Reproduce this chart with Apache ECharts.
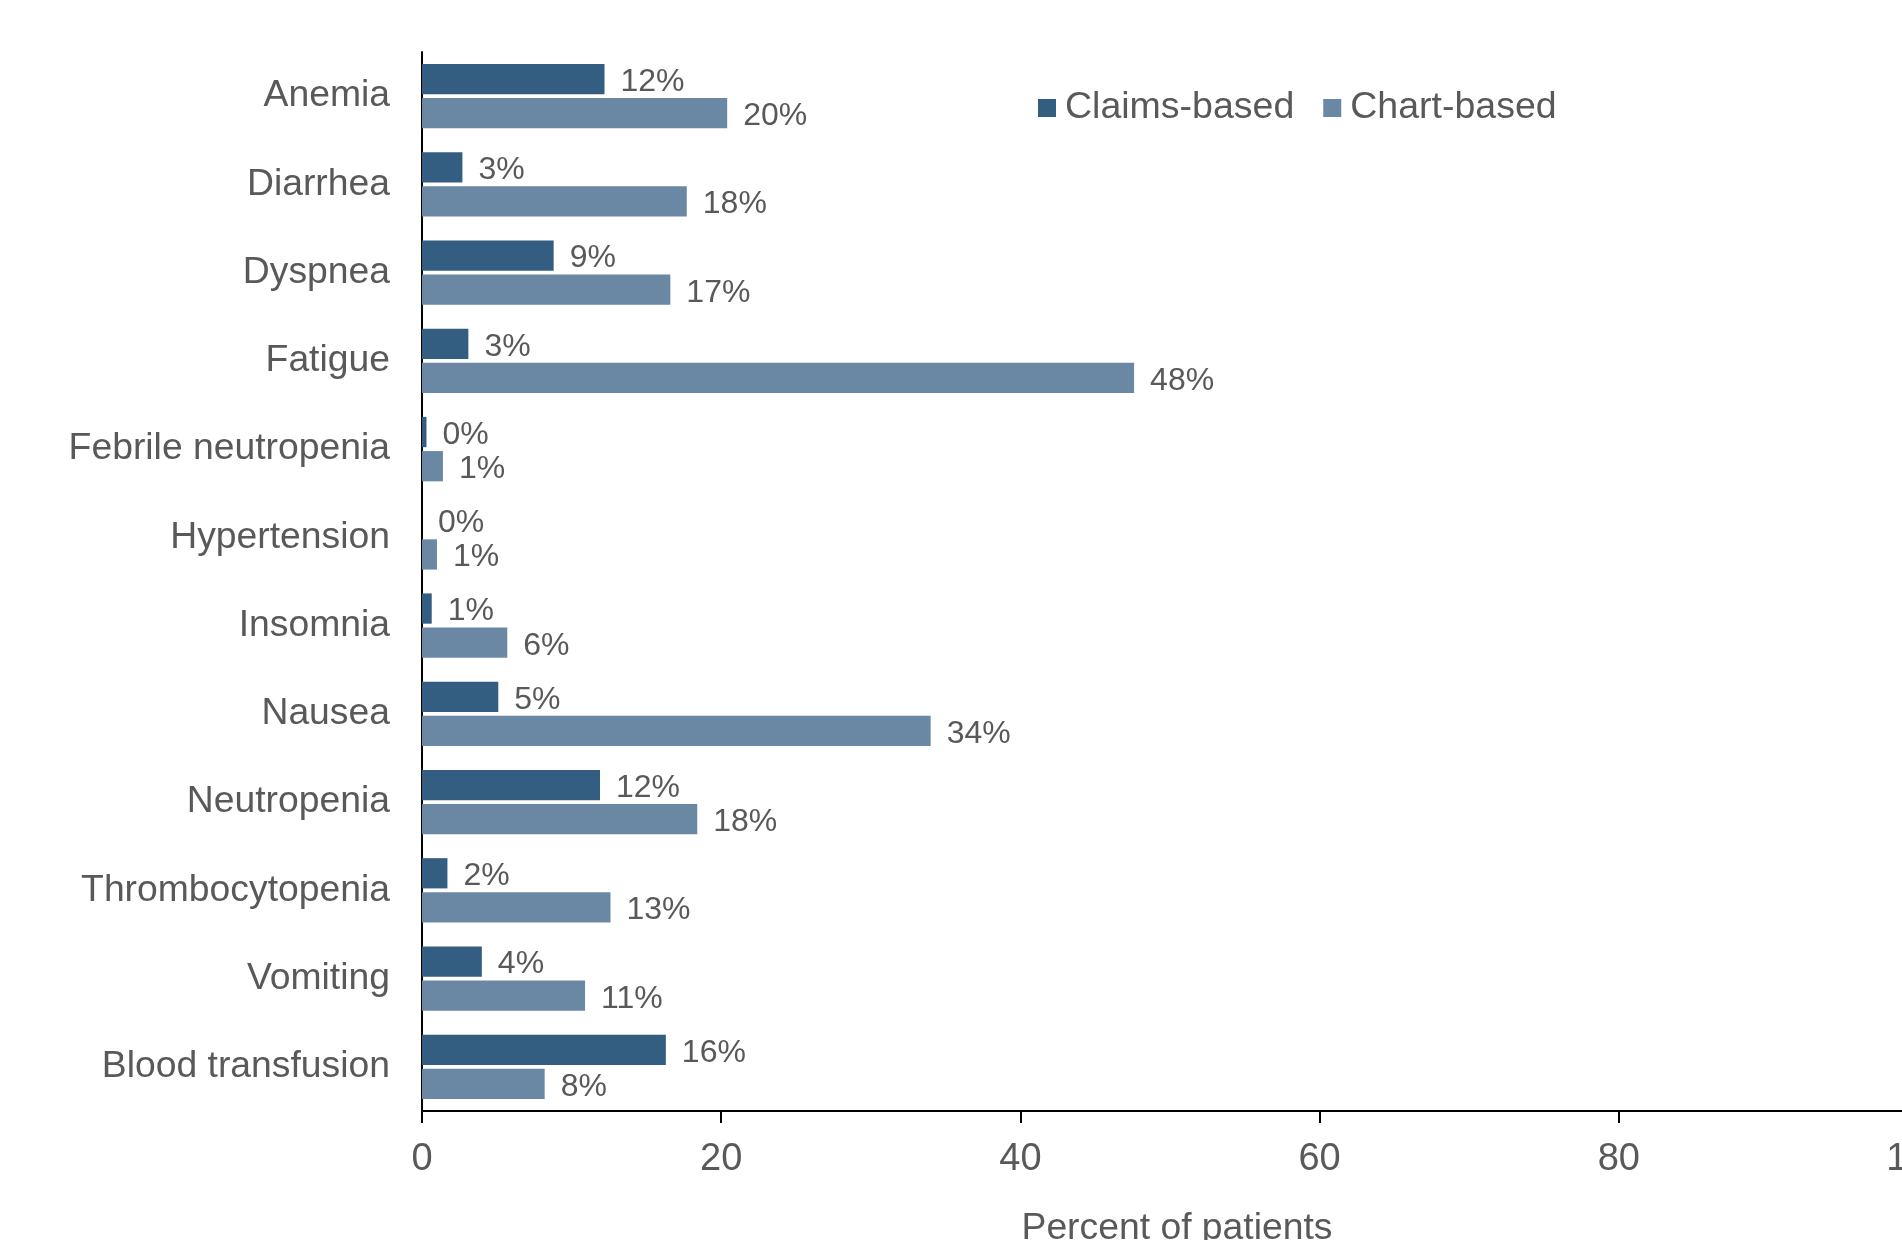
<!DOCTYPE html>
<html>
<head>
<meta charset="utf-8">
<script src="https://cdn.jsdelivr.net/npm/echarts@6/dist/echarts.min.js"></script>
<style>
  html, body { margin: 0; padding: 0; background: #fff; overflow: hidden; }
  #chart { width: 1902px; height: 1240px; }
</style>
</head>
<body>
<div id="chart"></div>
<script>
const categories = ['Anemia', 'Diarrhea', 'Dyspnea', 'Fatigue', 'Febrile neutropenia', 'Hypertension',
  'Insomnia', 'Nausea', 'Neutropenia', 'Thrombocytopenia', 'Vomiting', 'Blood transfusion']
const claimsBased = [12.2, 2.7, 8.8, 3.1, 0.3, 0, 0.65, 5.1, 11.9, 1.7, 4.0, 16.3]
const chartBased = [20.4, 17.7, 16.6, 47.6, 1.4, 1.0, 5.7, 34.0, 18.4, 12.6, 10.9, 8.2]
const xTicks = [0, 20, 40, 60, 80, 100]

const font = 'Liberation Sans, Arial, sans-serif'
const textColor = '#595959'

const chart = echarts.init(document.getElementById('chart'))

function barSeries(name, values, color) {
  return {
    name,
    type: 'bar',
    data: values,
    barGap: '13%',
    barCategoryGap: '27%',
    itemStyle: { color },
    label: {
      show: true,
      position: 'right',
      distance: 16,
      offset: [0, 3],
      color: textColor,
      fontFamily: font,
      fontSize: 32,
      formatter: p => Math.round(p.value) + '%'
    }
  }
}

chart.setOption({
  animation: false,
  textStyle: { fontFamily: font },
  legend: {
    left: 1033,
    top: 83,
    itemWidth: 18,
    itemHeight: 18,
    itemGap: 29,
    icon: 'rect',
    textStyle: { color: textColor, fontSize: 37.5, fontFamily: font, lineHeight: 40, padding: [0, 0, 0, 4] },
    data: ['Claims-based', 'Chart-based']
  },
  grid: { left: 422, top: 52, width: 1496, height: 1059, outerBoundsMode: 'none' },
  xAxis: {
    type: 'value',
    min: xTicks[0],
    max: xTicks[xTicks.length - 1],
    interval: 20,
    name: 'Percent of patients',
    nameLocation: 'middle',
    nameGap: 99,
    nameTextStyle: { color: textColor, fontSize: 37.3, fontFamily: font, padding: [0, 0, 0, 14] },
    axisLine: { show: true, lineStyle: { color: '#000', width: 2 } },
    axisTick: { show: true, length: 12, lineStyle: { color: '#000', width: 2 } },
    axisLabel: { color: textColor, fontSize: 38, fontFamily: font, margin: 30 },
    splitLine: { show: false }
  },
  yAxis: {
    type: 'category',
    inverse: true,
    data: categories,
    axisLine: { show: true, lineStyle: { color: '#000', width: 2 } },
    axisTick: { show: false },
    axisLabel: { color: textColor, fontSize: 37.3, fontFamily: font, margin: 32, padding: [3, 0, 0, 0] }
  },
  series: [
    barSeries('Claims-based', claimsBased, '#335e81'),
    barSeries('Chart-based', chartBased, '#6a88a3')
  ]
})
</script>
</body>
</html>
